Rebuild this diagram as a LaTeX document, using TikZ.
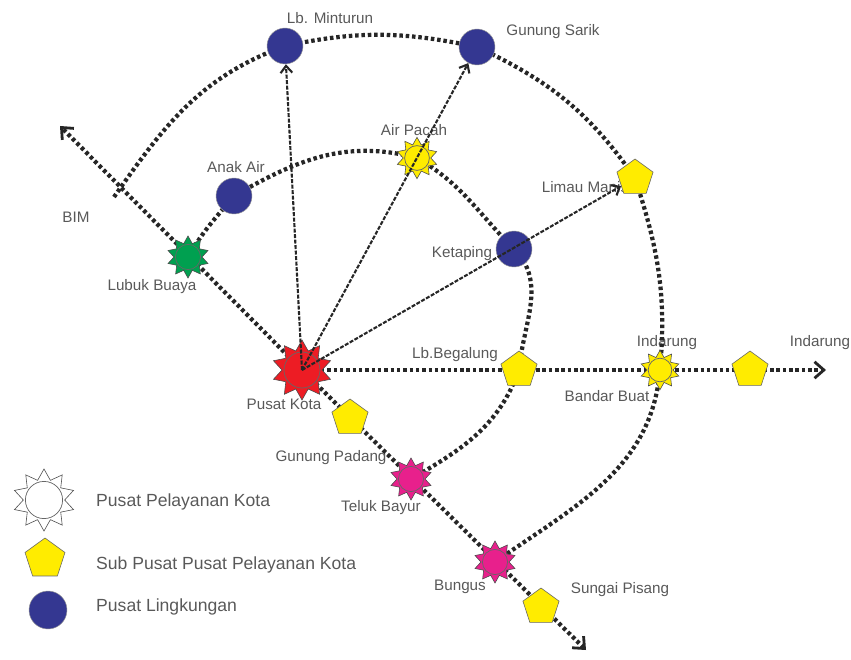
\documentclass[tikz,border=0pt]{standalone}
\usepackage{fontspec}
\setmainfont{Liberation Sans}
\usetikzlibrary{shapes.geometric,arrows.meta,backgrounds}

\definecolor{merah}{RGB}{237,28,36}
\definecolor{kuning}{RGB}{255,236,0}
\definecolor{biru}{RGB}{52,55,145}
\definecolor{hijau}{RGB}{0,160,80}
\definecolor{ungu}{RGB}{232,32,140}

\begin{document}
\begin{tikzpicture}[x=0.3mm, y=0.3mm,
  pusat/.style={star, star points=10, star point ratio=1.5, draw=black!70, line width=0.5pt,
    inner sep=0pt, minimum size=#1,
    path picture={\draw[black!60, line width=0.6pt] (path picture bounding box.center) circle [radius=0.3*#1];}},
  subpusat/.style={regular polygon, regular polygon sides=5, draw=black!60, fill=kuning,
    line width=0.5pt, inner sep=0pt, minimum size=#1},
  subpusat/.default=11.4mm,
  lingkungan/.style={circle, draw=black!40, fill=biru, inner sep=0pt, minimum size=#1},
  lingkungan/.default=10.8mm,
  jalur/.style={line width=3.6pt, draw=black!85, dash pattern=on 3pt off 2.4pt},
  ujungpanah/.style={-{Straight Barb[length=8pt,width=14pt,line width=2.4pt]}},
  arah/.style={line width=1.8pt, draw=black!85, dash pattern=on 3.4pt off 1.3pt,
    -{Straight Barb[length=6pt,width=10pt,line width=1.8pt]}},
  lbl/.style={text=black!65, font=\fontsize{13}{15}\selectfont, inner sep=0pt},
  ket/.style={text=black!65, font=\fontsize{15}{18}\selectfont, inner sep=0pt, anchor=west}]
\useasboundingbox (0,0) rectangle (851,659);

% pusat dan sub pusat
\node[pusat=18mm, fill=merah] (kota) at (302,289) {};
\node[pusat=12.6mm, fill=hijau] (lubuk) at (188,402) {};
\node[lingkungan] (anakair) at (234,463) {};
\node[lingkungan] (minturun) at (285,613) {};
\node[lingkungan] (sarik) at (477,612) {};
\node[pusat=12.4mm, fill=kuning] (pacah) at (417,501) {};
\node[lingkungan] (ketaping) at (514,410) {};
\node[subpusat] (limau) at (635,481) {};
\node[subpusat] (begalung) at (519,289) {};
\node[pusat=11.8mm, fill=kuning] (indarung) at (660,289) {};
\node[subpusat] (indarungB) at (750,289) {};
\node[subpusat] (padang) at (350,241) {};
\node[pusat=12.6mm, fill=ungu] (teluk) at (411,180) {};
\node[pusat=12.6mm, fill=ungu] (bungus) at (495,97) {};
\node[subpusat] (pisang) at (541,52) {};

\coordinate (bim) at (60,533);
\coordinate (timur) at (826,289);
\coordinate (selatan) at (586,9);
\coordinate (ujung) at (114,462);

% legenda
\node[pusat=18.6mm, fill=white] (lgpusat) at (44,159) {};
\node[subpusat=12.6mm] (lgsub) at (45,100) {};
\node[lingkungan=11.4mm] (lgling) at (48,49) {};
\node[ket] (kt1) at (96,157) {Pusat Pelayanan Kota};
\node[ket] (kt2) at (96,94) {Sub Pusat Pusat Pelayanan Kota};
\node[ket] (kt3) at (96,52) {Pusat Lingkungan};

\begin{scope}[on background layer]
% nama tempat
\node[lbl] (nminturun) at (330,641) {Lb. Minturun};
\node[lbl] (nsarik) at (553,627) {Gunung Sarik};
\node[lbl] (npacah) at (414,529) {Air Pacah};
\node[lbl] (nanak) at (236,492) {Anak Air};
\node[lbl] (nbim) at (76,442) {BIM};
\node[lbl] (nlimau) at (585,472) {Limau Manis};
\node[lbl] (nlubuk) at (152,372) {Lubuk Buaya};
\node[lbl] (nketaping) at (462,405) {Ketaping};
\node[lbl] (nkota) at (284,255) {Pusat Kota};
\node[lbl] (nbegalung) at (455,304) {Lb.Begalung};
\node[lbl] (nindarung) at (667,316) {Indarung};
\node[lbl] (nindarungB) at (820,316) {Indarung};
\node[lbl] (nbandar) at (607,263) {Bandar Buat};
\node[lbl] (npadang) at (331,201) {Gunung Padang};
\node[lbl] (nteluk) at (381,151) {Teluk Bayur};
\node[lbl] (nbungus) at (460,72) {Bungus};
\node[lbl] (npisang) at (620,69) {Sungai Pisang};

% jalur utama
\draw[jalur, ujungpanah] (kota.center) -- (bim);
\draw[jalur, ujungpanah] (kota.center) -- (selatan);
\draw[jalur, ujungpanah] (kota.center) -- (timur);
\draw[jalur] (ujung) to[out=55,in=200] (minturun.center) to[out=12,in=168] (sarik.center)
  to[out=-25,in=125] (limau.center) to[out=-72,in=85] (indarung.center)
  to[out=-95,in=35] (bungus.center);
\draw[jalur] (lubuk.center) to[out=60,in=230] (anakair.center) to[out=30,in=165] (pacah.center)
  to[out=-30,in=135] (ketaping.center) to[out=-45,in=85] (begalung.center)
  to[out=-110,in=30] (teluk.center);
\end{scope}

% arah pengembangan
\draw[arah] (kota.center) -- (minturun);
\draw[arah] (kota.center) -- (sarik);
\draw[arah] (kota.center) -- (limau);
\end{tikzpicture}
\end{document}
